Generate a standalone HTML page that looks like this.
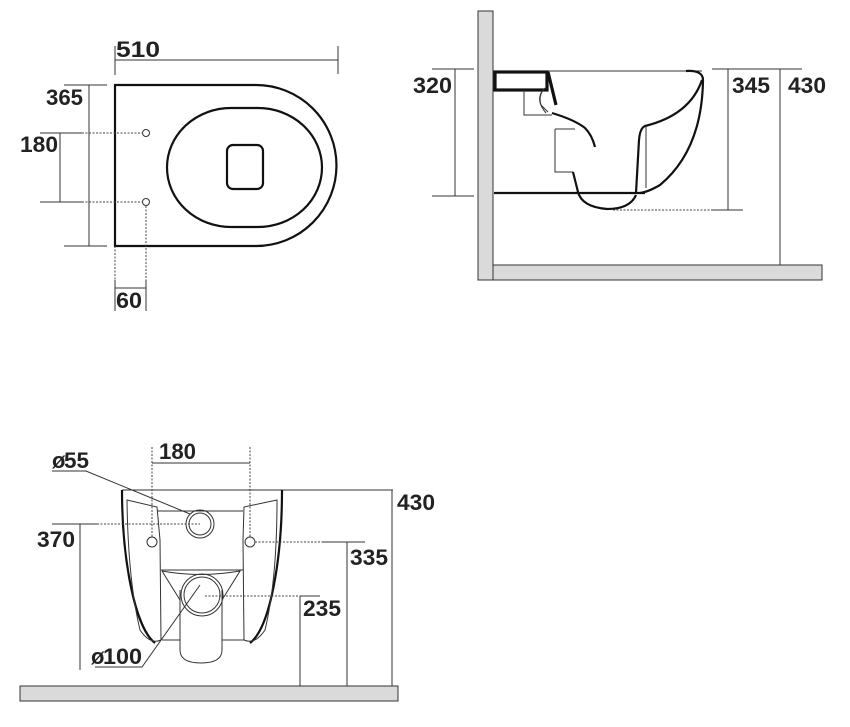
<!DOCTYPE html>
<html><head><meta charset="utf-8"><style>
html,body{margin:0;padding:0;background:#fff;}
svg{display:block;}
text{font-family:"Liberation Sans",Arial,sans-serif;font-weight:bold;font-size:22px;fill:#222;}
.t{stroke:#333;stroke-width:1;fill:none;}
.d{stroke:#444;stroke-width:1;fill:none;stroke-dasharray:2,1.5;}
.k{stroke:#111;stroke-width:2.2;fill:none;}
.kk{stroke:#111;stroke-width:3.2;fill:none;}
</style></head><body>
<svg width="850" height="727" viewBox="0 0 850 727" xmlns="http://www.w3.org/2000/svg">
<!-- TOP LEFT -->
<text x="116" y="57" textLength="44" lengthAdjust="spacingAndGlyphs">510</text>
<line class="t" x1="115" y1="60" x2="338" y2="60"/>
<line class="t" x1="115" y1="46" x2="115" y2="75"/>
<line class="t" x1="338" y1="46" x2="338" y2="74"/>
<path class="k" d="M115,85 H256 A80.5,80.5 0 0 1 256,246 H115 Z"/>
<rect class="k" x="167" y="108" width="155" height="119" rx="64" ry="59.5"/>
<rect class="k" x="227" y="145" width="36" height="44" rx="6"/>
<circle class="t" cx="146" cy="133" r="3.5"/>
<circle class="t" cx="146" cy="202" r="3.5"/>
<line class="t" x1="40" y1="133" x2="82" y2="133"/><line class="d" x1="82" y1="133" x2="142" y2="133"/>
<line class="t" x1="40" y1="202" x2="82" y2="202"/><line class="d" x1="82" y1="202" x2="142" y2="202"/>
<line class="t" x1="60" y1="133" x2="60" y2="202"/>
<text x="20" y="152" textLength="38" lengthAdjust="spacingAndGlyphs">180</text>
<line class="t" x1="64" y1="85" x2="107" y2="85"/>
<line class="t" x1="64" y1="246" x2="107" y2="246"/>
<line class="t" x1="89" y1="85" x2="89" y2="246"/>
<text x="46" y="105" textLength="37" lengthAdjust="spacingAndGlyphs">365</text>
<line class="d" x1="115" y1="246" x2="115" y2="280"/>
<line class="t" x1="115" y1="280" x2="115" y2="311"/>
<line class="d" x1="146" y1="206" x2="146" y2="280"/>
<line class="t" x1="146" y1="280" x2="146" y2="311"/>
<line class="t" x1="115" y1="288" x2="146" y2="288"/>
<text x="116" y="308" textLength="26" lengthAdjust="spacingAndGlyphs">60</text>

<!-- TOP RIGHT -->
<rect x="478" y="11" width="15" height="269" fill="#dadada" stroke="#333" stroke-width="1"/>
<rect x="493" y="265" width="329" height="15" fill="#dadada" stroke="#333" stroke-width="1"/>
<line class="t" x1="432" y1="69" x2="474" y2="69"/>
<line class="t" x1="432" y1="196" x2="474" y2="196"/>
<line class="t" x1="455" y1="69" x2="455" y2="196"/>
<text x="413" y="93" textLength="39" lengthAdjust="spacingAndGlyphs">320</text>
<line class="t" x1="548" y1="71" x2="702" y2="71"/>
<rect class="kk" x="495" y="72" width="52" height="18"/>
<path class="kk" d="M548,72 L556,105"/>
<path class="t" d="M545,88 Q538,95 541,105 L548,112"/>
<path class="t" d="M543,90 Q535,100 546,113"/>
<path class="t" d="M524,90 V115 H552"/>
<path class="k" d="M552,113 Q575,120 585,128 Q592,135 595,147"/>
<path class="t" d="M555,129 H575 M555,129 V172 H573"/>
<path class="k" d="M494,193 H645"/>
<path class="k" d="M573,172 L578,192 Q582,207 607,209 Q630,209 636,195"/>
<path class="k" d="M686,71 Q703,70 703,80 Q702,150 660,185 Q648,192 640,193"/>
<path class="k" d="M702,80 Q690,115 645,126 Q640,128 639,140 L636,193"/>
<line class="t" x1="646" y1="127" x2="646" y2="188"/>
<line class="t" x1="712" y1="69" x2="745" y2="69"/>
<line class="t" x1="728" y1="69" x2="728" y2="210"/>
<line class="d" x1="613" y1="210" x2="712" y2="210"/>
<line class="t" x1="712" y1="210" x2="743" y2="210"/>
<text x="732" y="93" textLength="38" lengthAdjust="spacingAndGlyphs">345</text>
<line class="t" x1="745" y1="69" x2="802" y2="69"/>
<line class="t" x1="780" y1="69" x2="780" y2="265"/>
<text x="788" y="93" textLength="38" lengthAdjust="spacingAndGlyphs">430</text>

<!-- BOTTOM -->
<rect x="20" y="686" width="378" height="15" fill="#dadada" stroke="#333" stroke-width="1"/>
<line class="t" x1="122" y1="490" x2="393" y2="490"/>
<path class="k" d="M122,490 C122,560 135,628 155,643 M282,490 C282,560 270,628 250,643"/>
<path class="t" d="M127,500 L157,507 L160,540 L161,640 Q150,645 140,630 Q128,580 127,500 Z"/>
<path class="t" d="M277,500 L244,507 L243,540 L244,640 Q255,645 265,630 Q277,580 277,500 Z"/>
<path class="t" d="M157,511 H243 M161,570 H243 M162,640 H180 M222,640 H244"/>
<path class="t" d="M162,571 Q200,578 240,571 L222,600 M162,571 L180,600"/>
<path class="t" d="M180,590 V650 Q180,663 201,663 Q222,663 222,650 V590"/>
<circle class="t" cx="200" cy="524" r="14"/><circle class="t" cx="200" cy="524" r="11"/>
<circle class="t" cx="202" cy="595" r="21"/><circle class="t" cx="202" cy="595" r="18"/>
<circle class="t" cx="152" cy="542" r="5"/><circle class="t" cx="250" cy="542" r="5"/>
<line class="d" x1="152" y1="447" x2="152" y2="537"/>
<line class="d" x1="250" y1="447" x2="250" y2="537"/>
<line class="t" x1="152" y1="463" x2="250" y2="463"/>
<text x="159" y="459" textLength="37" lengthAdjust="spacingAndGlyphs">180</text>
<text x="52" y="468" font-size="13">ø</text>
<text x="64" y="468" textLength="25" lengthAdjust="spacingAndGlyphs">55</text>
<path class="t" d="M52,471 H86 L190,514"/>
<line class="t" x1="52" y1="524" x2="97" y2="524"/><line class="d" x1="97" y1="524" x2="200" y2="524"/>
<line class="t" x1="80" y1="524" x2="80" y2="670"/>
<text x="37" y="547" textLength="38" lengthAdjust="spacingAndGlyphs">370</text>
<line class="d" x1="255" y1="542" x2="322" y2="542"/><line class="t" x1="322" y1="542" x2="365" y2="542"/>
<line class="t" x1="347" y1="542" x2="347" y2="686"/>
<text x="350" y="565" textLength="38" lengthAdjust="spacingAndGlyphs">335</text>
<line class="d" x1="205" y1="596" x2="300" y2="596"/><line class="t" x1="300" y1="596" x2="320" y2="596"/>
<line class="t" x1="300" y1="596" x2="300" y2="686"/>
<text x="303" y="616" textLength="38" lengthAdjust="spacingAndGlyphs">235</text>
<line class="t" x1="392" y1="490" x2="392" y2="686"/>
<text x="397" y="510" textLength="38" lengthAdjust="spacingAndGlyphs">430</text>
<text x="91" y="664" font-size="13">ø</text>
<text x="103" y="664" textLength="39" lengthAdjust="spacingAndGlyphs">100</text>
<path class="t" d="M95,667 H142 L200,585"/>
</svg>
</body></html>
